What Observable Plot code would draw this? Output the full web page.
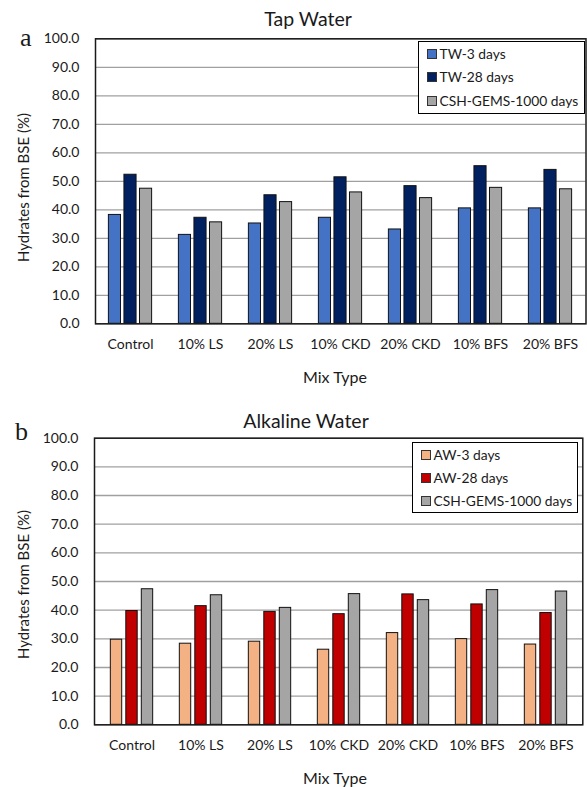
<!DOCTYPE html>
<html><head><meta charset="utf-8">
<script src="https://cdn.jsdelivr.net/npm/d3@7"></script>
<script src="https://cdn.jsdelivr.net/npm/@observablehq/plot@0.6"></script>
<style>
body{margin:0;background:#fff;font-family:Lato,sans-serif;color:#1a1a1a}
#root{position:relative;width:587px;height:787px;overflow:hidden;background:#fff}
.abs{position:absolute;white-space:nowrap;line-height:1}
.svgwrap{position:absolute;left:0;width:587px}
.title{font-size:19.5px;width:300px;text-align:center}
.letter{font-family:"Liberation Serif",serif;font-size:26px}
.ylab{font-size:15px;width:240px;text-align:center;transform:rotate(-90deg);transform-origin:50% 50%;height:15px}
.xlab{font-size:16px;width:200px;text-align:center}
.legend{border:1px solid #000;background:#fff;font-size:13.8px;box-sizing:border-box;padding-left:7.5px}
.legend .row{display:flex;align-items:center}
.legend .sw{width:8px;height:8px;border:1px solid #333;margin-right:3px;flex:none}
</style>
</head><body>
<div id="root"></div>
<script>
const categories = ["Control","10% LS","20% LS","10% CKD","20% CKD","10% BFS","20% BFS"];
const yTicks = [0,10,20,30,40,50,60,70,80,90,100];

// Tap water
const tw3  = [38.2, 31.2, 35.2, 37.2, 33.1, 40.5, 40.5];
const tw28 = [52.3, 37.2, 45.1, 51.4, 48.3, 55.3, 54.0];
const cshA = [47.4, 35.6, 42.7, 46.1, 44.1, 47.7, 47.2];
// Alkaline water
const aw3  = [29.7, 28.3, 29.0, 26.2, 32.0, 29.9, 28.0];
const aw28 = [39.7, 41.4, 39.4, 38.6, 45.5, 42.0, 39.0];
const cshB = [47.3, 45.2, 40.8, 45.6, 43.5, 47.0, 46.5];

const seriesA = ["TW-3 days","TW-28 days","CSH-GEMS-1000 days"];
const seriesB = ["AW-3 days","AW-28 days","CSH-GEMS-1000 days"];
const colorsA = ["#4472C4","#002060","#A5A5A5"];
const colorsB = ["#F4B183","#C00000","#A5A5A5"];

const root = document.getElementById("root");
function addDiv(cls, text, style){
  const d = document.createElement("div");
  d.className = "abs " + cls;
  if (text != null) d.textContent = text;
  Object.assign(d.style, style);
  root.appendChild(d);
  return d;
}

function makeChart(cfg){
  const rows = categories.map((c,i)=>({cat:c, s0:cfg.values[0][i], s1:cfg.values[1][i], s2:cfg.values[2][i]}));
  const W = 587;
  const band = (W - cfg.ml - cfg.mr) / categories.length;
  const bw = band * 0.174, gap = band * 0.048;
  const group = 3*bw + 2*gap;
  const bars = [0,1,2].map(i=>{
    const left = (band - group)/2 + i*(bw+gap);
    return Plot.barY(rows, {x:"cat", y:"s"+i, fill:cfg.colors[i], stroke:"#111", strokeWidth:1,
      insetLeft:left, insetRight:band-left-bw});
  });
  const svg = Plot.plot({
    width: W, height: cfg.h,
    marginLeft: cfg.ml, marginRight: cfg.mr, marginTop: cfg.mt, marginBottom: cfg.mb,
    style:{fontFamily:"Lato, sans-serif", fontSize:"14px", color:"#1a1a1a", background:"transparent"},
    x:{domain:categories, padding:0},
    y:{domain:[0,100]},
    marks:[
      Plot.gridY(yTicks, {stroke:"#a0a0a0", strokeOpacity:1, strokeWidth:1.3}),
      ...bars,
      Plot.frame({stroke:"#1a1a1a", strokeWidth:1.5}),
      Plot.axisY(yTicks, {tickSize:0, tickPadding:16, tickFormat:d3.format(".1f"), label:null, fontSize:14}),
      Plot.axisX({tickSize:0, tickPadding:15, label:null, fontSize:14})
    ]
  });
  const wrap = document.createElement("div");
  wrap.className = "svgwrap";
  wrap.style.top = cfg.top + "px";
  wrap.appendChild(svg);
  root.appendChild(wrap);

  addDiv("title", cfg.title, {left:(cfg.titleX-150)+"px", top:cfg.titleTop+"px"});
  addDiv("letter", cfg.letter, {left:cfg.letterX+"px", top:cfg.letterTop+"px"});
  addDiv("ylab", "Hydrates from BSE (%)", {left:(23-120)+"px", top:(cfg.ylabY-7.5)+"px"});
  addDiv("xlab", "Mix Type", {left:(335-100)+"px", top:cfg.xlabTop+"px"});
  const lg = addDiv("legend", null, {left:cfg.lg.x+"px", top:cfg.lg.y+"px", width:cfg.lg.w+"px", height:cfg.lg.h+"px"});
  cfg.series.forEach((s,i)=>{
    const r = document.createElement("div");
    r.className = "row";
    r.style.height = cfg.lg.row + "px";
    const sw = document.createElement("div");
    sw.className = "sw"; sw.style.background = cfg.colors[i];
    const t = document.createElement("span"); t.textContent = s;
    r.appendChild(sw); r.appendChild(t); lg.appendChild(r);
  });
}

makeChart({values:[tw3,tw28,cshA], colors:colorsA, series:seriesA,
  top:0, h:393, ml:95, mr:1.5, mt:38.3, mb:69.7,
  title:"Tap Water", titleX:308, titleTop:8.7, letter:"a", letterX:20, letterTop:25,
  ylabY:187, xlabTop:368.8,
  lg:{x:418, y:41, w:167, h:73, row:23.6}});

makeChart({values:[aw3,aw28,cshB], colors:colorsB, series:seriesB,
  top:393, h:394, ml:94, mr:4.7, mt:44.7, mb:62.7,
  title:"Alkaline Water", titleX:306, titleTop:411, letter:"b", letterX:15, letterTop:419,
  ylabY:584, xlabTop:769.8,
  lg:{x:412, y:442, w:166, h:71, row:23.3}});
</script>
</body></html>
